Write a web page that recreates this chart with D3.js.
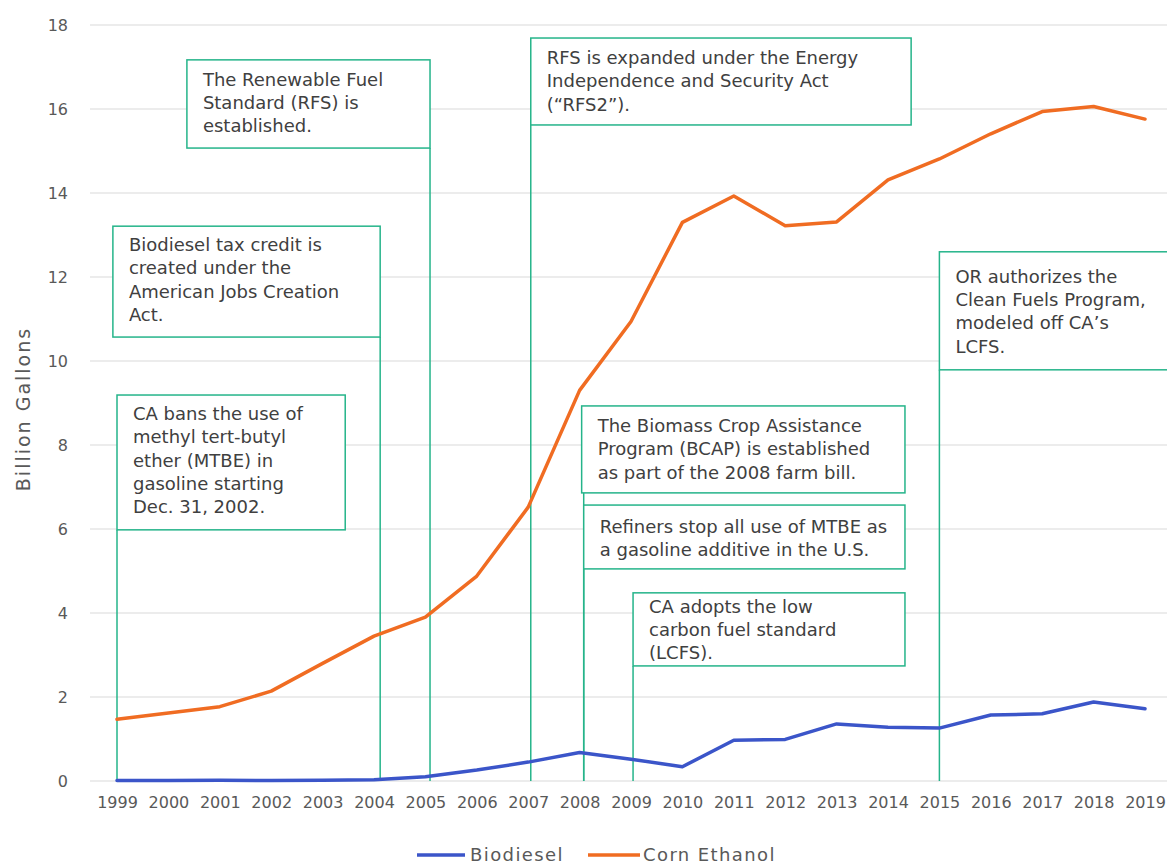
<!DOCTYPE html>
<html>
<head>
<meta charset="utf-8">
<script src="https://cdn.jsdelivr.net/npm/d3@7"></script>
<style>
  body { margin: 0; background: #fff; }
  text { font-family: "DejaVu Sans", sans-serif; }
</style>
</head>
<body>
<div id="chart"></div>
<script>
// Data
var years = d3.range(1999, 2020);
var biodiesel = [0.01, 0.01, 0.02, 0.01, 0.02, 0.03, 0.1, 0.26, 0.45, 0.68, 0.52, 0.34, 0.97, 0.99, 1.36, 1.28, 1.26, 1.57, 1.6, 1.88, 1.72];
var cornEthanol = [1.47, 1.62, 1.77, 2.14, 2.8, 3.45, 3.9, 4.88, 6.52, 9.3, 10.94, 13.3, 13.93, 13.22, 13.31, 14.31, 14.81, 15.41, 15.94, 16.06, 15.76];
var yTicks = [0, 2, 4, 6, 8, 10, 12, 14, 16, 18];
var seriesNames = ["Biodiesel", "Corn Ethanol"];

// Annotation texts (one entry per line)
var noteTexts = [
    ["The Renewable Fuel", "Standard (RFS) is", "established."],
    ["RFS is expanded under the Energy", "Independence and Security Act", "(\u201cRFS2\u201d)."],
    ["Biodiesel tax credit is", "created under the", "American Jobs Creation", "Act."],
    ["CA bans the use of", "methyl tert-butyl", "ether (MTBE) in", "gasoline starting", "Dec. 31, 2002."],
    ["The Biomass Crop Assistance", "Program (BCAP) is established", "as part of the 2008 farm bill."],
    ["Refiners stop all use of MTBE as", "a gasoline additive in the U.S."],
    ["CA adopts the low", "carbon fuel standard", "(LCFS)."],
    ["OR authorizes the", "Clean Fuels Program,", "modeled off CA\u2019s", "LCFS."]
];
// where each leader line meets the x axis (drawn by hand in the original, so a bit off the ticks)
var noteYears = [2005.09, 2007.05, 2004.12, 1999, 2008.08, 2008.08, 2009.04, 2015];

// Box placement in chart units: [left year, right year, top value, bottom value]
var noteBoxes = [
    [2000.36, 2005.09, 17.17, 15.07],
    [2007.05, 2014.45, 17.69, 15.62],
    [1998.92, 2004.12, 13.21, 10.57],
    [1999, 2003.44, 9.19, 5.98],
    [2008.04, 2014.33, 8.93, 6.86],
    [2008.08, 2014.33, 6.57, 5.05],
    [2009.04, 2014.33, 4.48, 2.74],
    [2015, 2019.6, 12.6, 9.79]
];
// first baseline offset inside each box
var noteTextTop = [26, 26, 25, 25, 26, 28, 20, 31];

var W = 1167, H = 865;
var colors = {"Biodiesel": "#3b55c9", "Corn Ethanol": "#f06c22"};
var noteColor = "#25b48a";

var svg = d3.select("#chart").append("svg")
    .attr("width", W)
    .attr("height", H);

var x = d3.scaleLinear().domain([1999, 2019]).range([117, 1145]);
var y = d3.scaleLinear().domain([0, 18]).range([781, 25]);

// Gridlines
svg.append("g")
    .selectAll("line")
    .data(yTicks)
    .join("line")
    .attr("x1", 90)
    .attr("x2", W)
    .attr("y1", d => y(d))
    .attr("y2", d => y(d))
    .attr("stroke", "#d9d9d9")
    .attr("stroke-width", 1.2);

// Y axis labels
var yAxis = svg.append("g")
    .attr("transform", "translate(76,0)")
    .call(d3.axisLeft(y).tickValues(yTicks).tickSize(0).tickPadding(8));
yAxis.select(".domain").remove();
yAxis.selectAll("text")
    .style("font-family", "DejaVu Sans")
    .style("font-size", "16px")
    .attr("fill", "#595959");

// X axis labels
var xAxis = svg.append("g")
    .attr("transform", "translate(0,781)")
    .call(d3.axisBottom(x).tickValues(years).tickFormat(d3.format("d")).tickSize(0).tickPadding(16));
xAxis.select(".domain").remove();
xAxis.selectAll("text")
    .style("font-family", "DejaVu Sans")
    .style("font-size", "16px")
    .attr("fill", "#595959");

// Y axis title
svg.append("text")
    .attr("transform", "rotate(-90)")
    .attr("x", -409)
    .attr("y", 30)
    .style("text-anchor", "middle")
    .style("font-size", "19px")
    .style("letter-spacing", "2px")
    .attr("fill", "#595959")
    .text("Billion Gallons");

// Annotation leader lines
var notes = noteTexts.map((t, i) => ({lines: t, year: noteYears[i], box: noteBoxes[i], top: noteTextTop[i]}));

svg.append("g")
    .selectAll("line")
    .data(notes)
    .join("line")
    .attr("x1", d => x(d.year))
    .attr("x2", d => x(d.year))
    .attr("y1", d => y(d.box[3]))
    .attr("y2", y(0))
    .attr("stroke", noteColor)
    .attr("stroke-width", 1.5);

// Series lines
var series = [
    {name: "Biodiesel", values: biodiesel},
    {name: "Corn Ethanol", values: cornEthanol}
];
var line = d3.line()
    .x((d, i) => x(years[i]))
    .y(d => y(d));

svg.append("g")
    .selectAll("path")
    .data(series)
    .join("path")
    .attr("d", d => line(d.values))
    .attr("fill", "none")
    .attr("stroke", d => colors[d.name])
    .attr("stroke-width", 3.5)
    .attr("stroke-linejoin", "round")
    .attr("stroke-linecap", "round");

// Annotation boxes
var noteG = svg.append("g")
    .selectAll("g")
    .data(notes)
    .join("g");

noteG.append("rect")
    .attr("x", d => x(d.box[0]))
    .attr("y", d => y(d.box[2]))
    .attr("width", d => x(d.box[1]) - x(d.box[0]))
    .attr("height", d => y(d.box[3]) - y(d.box[2]))
    .attr("fill", "#fff")
    .attr("stroke", noteColor)
    .attr("stroke-width", 1.5);

noteG.each(function(d) {
    d3.select(this).selectAll("text")
        .data(d.lines)
        .join("text")
        .attr("x", x(d.box[0]) + 16)
        .attr("y", (t, i) => y(d.box[2]) + d.top + i * 23.3)
        .style("font-size", "18px")
        .attr("fill", "#404040")
        .text(t => t);
});

// Legend
var legend = svg.append("g")
    .selectAll("g")
    .data(seriesNames)
    .join("g")
    .attr("transform", (d, i) => "translate(" + [417, 588][i] + ",855)");

legend.append("line")
    .attr("x1", 0)
    .attr("x2", (d, i) => [48, 52][i])
    .attr("stroke", d => colors[d])
    .attr("stroke-width", 3.5);

legend.append("text")
    .attr("x", (d, i) => [53, 55][i])
    .attr("dy", "0.35em")
    .style("font-size", "18px")
    .style("letter-spacing", "1.4px")
    .attr("fill", "#595959")
    .text(d => d);
</script>
</body>
</html>
